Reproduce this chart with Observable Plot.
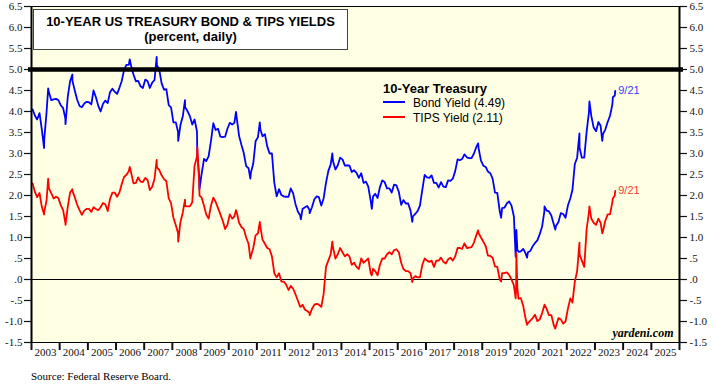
<!DOCTYPE html>
<html>
<head>
<meta charset="utf-8">
<script src="https://cdn.jsdelivr.net/npm/d3@7"></script>
<script src="https://cdn.jsdelivr.net/npm/@observablehq/plot@0.6"></script>
<style>
  html, body { margin: 0; padding: 0; background: #ffffff; }
  #wrap { position: relative; width: 715px; height: 386px; overflow: hidden; }
  #title { position: absolute; left: 33px; top: 9px; width: 315px; height: 41px; box-sizing: border-box;
           border: 1.5px solid #444; background: #ffffff; text-align: center;
           font-family: "Liberation Sans", Arial, sans-serif; font-weight: bold; font-size: 13px;
           line-height: 15px; padding-top: 4px; color: #000; }
  #title div { height: 15px; }
  .leg { position: absolute; font-family: "Liberation Sans", Arial, sans-serif; color: #000; white-space: nowrap; }
  .sw { position: absolute; height: 2px; width: 22px; }
  #source { position: absolute; left: 31px; top: 370px; font-family: "Liberation Serif", "Times New Roman", serif;
            font-size: 11px; line-height: 12px; color: #000; }
</style>
</head>
<body>
<div id="wrap">
  <div id="chart"></div>
  <div id="title"><div>10-YEAR US TREASURY BOND &amp; TIPS YIELDS</div><div>(percent, daily)</div></div>
  <div class="leg" style="left:383px; top:81px; font-size:13px; line-height:15px; font-weight:bold;">10-Year Treasury</div>
  <div class="sw" style="left:383px; top:101px; background:#0000ff;"></div>
  <div class="leg" style="left:413px; top:96px; font-size:12px; line-height:14px;">Bond Yield (4.49)</div>
  <div class="sw" style="left:383px; top:116px; background:#ff0000;"></div>
  <div class="leg" style="left:413px; top:111px; font-size:12px; line-height:14px;">TIPS Yield (2.11)</div>
  <div id="source">Source: Federal Reserve Board.</div>
</div>
<script>
// Monthly readings, Jan 2003 .. Sep 2023 (percent)
const bondMonthly = [
  4.05, 3.90, 3.81, 3.96, 3.57, 3.33, 3.98, 4.45, 4.27, 4.29, 4.30, 4.27,
  4.15, 4.08, 3.83, 4.35, 4.72, 4.73, 4.50, 4.28, 4.13, 4.10, 4.19, 4.23,
  4.22, 4.17, 4.50, 4.34, 4.14, 4.00, 4.18, 4.26, 4.20, 4.46, 4.54, 4.47,
  4.42, 4.57, 4.72, 4.99, 5.11, 5.11, 5.09, 4.88, 4.72, 4.73, 4.60, 4.56,
  4.76, 4.72, 4.56, 4.69, 4.75, 5.10, 5.00, 4.67, 4.52, 4.53, 4.15, 4.10,
  3.74, 3.74, 3.51, 3.68, 3.88, 4.10, 4.01, 3.89, 3.69, 3.81, 3.53, 2.42,
  2.52, 2.87, 2.82, 2.93, 3.29, 3.72, 3.56, 3.59, 3.40, 3.39, 3.40, 3.59,
  3.73, 3.69, 3.73, 3.85, 3.42, 3.20, 3.01, 2.70, 2.65, 2.54, 2.76, 3.29,
  3.39, 3.58, 3.41, 3.46, 3.17, 3.00, 3.00, 2.30, 1.98, 2.15, 2.01, 1.98,
  1.97, 1.97, 2.17, 2.05, 1.80, 1.62, 1.53, 1.68, 1.72, 1.75, 1.65, 1.72,
  1.91, 1.98, 1.96, 1.76, 1.93, 2.30, 2.58, 2.74, 2.81, 2.62, 2.72, 2.90,
  2.86, 2.71, 2.72, 2.71, 2.56, 2.60, 2.54, 2.42, 2.53, 2.30, 2.33, 2.21,
  1.88, 1.98, 2.04, 1.94, 2.20, 2.36, 2.32, 2.17, 2.17, 2.07, 2.26, 2.24,
  2.09, 1.78, 1.89, 1.81, 1.81, 1.64, 1.50, 1.56, 1.63, 1.76, 2.14, 2.49,
  2.43, 2.42, 2.48, 2.30, 2.30, 2.19, 2.32, 2.21, 2.20, 2.36, 2.35, 2.40,
  2.58, 2.86, 2.84, 2.87, 2.98, 2.91, 2.89, 2.89, 3.00, 3.15, 3.12, 2.83,
  2.71, 2.68, 2.57, 2.53, 2.40, 2.07, 2.06, 1.63, 1.70, 1.71, 1.81, 1.86,
  1.76, 1.50, 0.87, 0.66, 0.67, 0.73, 0.62, 0.65, 0.68, 0.79, 0.87, 0.93,
  1.08, 1.26, 1.61, 1.64, 1.62, 1.52, 1.32, 1.28, 1.37, 1.58, 1.56, 1.47,
  1.76, 1.93, 2.13, 2.75, 2.90, 3.14, 2.90, 2.90, 3.52, 3.98, 3.89, 3.62,
  3.53, 3.75, 3.66, 3.46, 3.57, 3.75, 3.90, 4.17, 4.38
];
const tipsMonthly = [
  2.29, 2.08, 1.96, 2.06, 1.73, 1.61, 1.88, 2.17, 2.05, 1.93, 1.97, 1.94,
  1.77, 1.65, 1.35, 1.73, 2.07, 2.11, 1.96, 1.78, 1.65, 1.54, 1.64, 1.68,
  1.68, 1.61, 1.72, 1.68, 1.65, 1.72, 1.82, 1.79, 1.63, 1.92, 2.07, 2.07,
  1.97, 2.08, 2.27, 2.44, 2.49, 2.58, 2.55, 2.29, 2.30, 2.43, 2.33, 2.32,
  2.42, 2.36, 2.13, 2.21, 2.40, 2.67, 2.61, 2.48, 2.39, 2.34, 1.93, 1.82,
  1.47, 1.29, 1.11, 1.37, 1.59, 1.75, 1.74, 1.74, 1.84, 2.71, 2.92, 2.26,
  1.95, 1.75, 1.55, 1.45, 1.75, 1.95, 1.85, 1.70, 1.55, 1.40, 1.20, 1.30,
  1.55, 1.45, 1.50, 1.60, 1.35, 1.25, 1.20, 1.00, 0.85, 0.55, 0.75, 1.05,
  1.10, 1.25, 0.95, 0.85, 0.75, 0.72, 0.55, 0.15, 0.05, 0.15, -0.05, -0.05,
  -0.12, -0.25, -0.15, -0.22, -0.35, -0.50, -0.65, -0.60, -0.72, -0.75, -0.80, -0.70,
  -0.60, -0.58, -0.60, -0.65, -0.35, 0.30, 0.45, 0.60, 0.75, 0.50, 0.60, 0.75,
  0.65, 0.55, 0.60, 0.55, 0.35, 0.40, 0.30, 0.25, 0.50, 0.40, 0.45, 0.50,
  0.15, 0.25, 0.20, 0.10, 0.35, 0.50, 0.50, 0.60, 0.65, 0.60, 0.70, 0.72,
  0.65, 0.40, 0.25, 0.20, 0.20, 0.15, 0.02, 0.08, 0.05, 0.05, 0.35, 0.50,
  0.45, 0.42, 0.45, 0.30, 0.45, 0.45, 0.52, 0.42, 0.38, 0.48, 0.52, 0.45,
  0.55, 0.75, 0.75, 0.73, 0.86, 0.75, 0.76, 0.77, 0.88, 1.05, 1.10, 1.00,
  0.90, 0.79, 0.57, 0.56, 0.52, 0.31, 0.30, 0.00, 0.15, 0.15, 0.17, 0.11,
  0.00, -0.14, -0.20, -0.46, -0.44, -0.63, -0.93, -1.04, -0.98, -0.92, -0.84, -0.99,
  -0.95, -0.80, -0.62, -0.70, -0.85, -0.85, -1.08, -1.10, -0.92, -0.95, -1.05, -1.00,
  -0.70, -0.45, -0.55, -0.05, 0.20, 0.60, 0.45, 0.30, 1.20, 1.60, 1.45, 1.35,
  1.30, 1.45, 1.35, 1.15, 1.40, 1.55, 1.55, 1.85, 2.00
];
// Daily highs/lows
const extremeDates = ["2003-06-13","2003-08-05","2004-03-17","2004-06-14","2006-06-28","2007-06-12",
  "2008-03-17","2008-06-13","2008-11-20","2008-12-18","2010-04-05","2010-10-08","2011-02-08",
  "2012-07-24","2012-11-15","2013-09-05","2015-01-30","2016-07-08","2018-11-08","2019-09-03",
  "2020-03-09","2020-03-18","2020-03-31","2020-08-04","2021-03-18","2021-08-04","2022-06-14",
  "2022-10-21","2023-04-06","2023-08-21","2023-09-21"];
const extremeBond = [3.13, 4.55, 3.70, 4.88, 5.24, 5.30, 3.30, 4.27, 3.00, 2.15, 3.99, 2.40, 3.74,
  1.43, 1.58, 3.00, 1.68, 1.37, 3.24, 1.47, 0.54, 1.18, 0.70, 0.52, 1.74, 1.19, 3.48, 4.24, 3.30, 4.34, 4.49];
const extremeTips = [1.55, 2.40, 1.30, 2.15, 2.68, 2.85, 0.90, 1.90, 3.15, 2.00, 1.65, 0.50, 1.37,
  -0.65, -0.85, 0.90, 0.10, -0.06, 1.17, -0.05, -0.45, 0.62, -0.20, -1.08, -0.60, -1.17, 0.88, 1.74, 1.10, 1.93, 2.11];

const yTicks = [-1.5, -1.0, -0.5, 0, 0.5, 1.0, 1.5, 2.0, 2.5, 3.0, 3.5, 4.0, 4.5, 5.0, 5.5, 6.0, 6.5];
const yearLabels = [2003,2004,2005,2006,2007,2008,2009,2010,2011,2012,2013,2014,2015,2016,2017,2018,2019,2020,2021,2022,2023,2024,2025];
const endLabel = "9/21";

function buildSeries(monthly, extremes) {
  const pts = monthly.map((v, i) => ({date: new Date(Date.UTC(2003 + Math.floor(i / 12), i % 12, 15)), value: v}));
  extremeDates.forEach((d, i) => pts.push({date: new Date(d + "T00:00:00Z"), value: extremes[i]}));
  return pts.sort((a, b) => a.date - b.date);
}
const bond = buildSeries(bondMonthly, extremeBond);
const tips = buildSeries(tipsMonthly, extremeTips);

const xStart = new Date(Date.UTC(yearLabels[0], 0, 1));
const xEnd = new Date(Date.UTC(yearLabels[yearLabels.length - 1] + 1, 0, 1));
const yearStarts = yearLabels.concat([yearLabels[yearLabels.length - 1] + 1]).map(y => new Date(Date.UTC(y, 0, 1)));
const yearMids = yearLabels.map(y => new Date(Date.UTC(y, 6, 2)));
const fmtY = d => d.toFixed(1).replace(/^(-?)0\./, "$1.");

const serif = "'Liberation Serif', 'Times New Roman', serif";
const sans = "'Liberation Sans', Arial, sans-serif";

const chart = Plot.plot({
  width: 715,
  height: 362,
  marginTop: 6,
  marginBottom: 20,
  marginLeft: 31,
  marginRight: 36,
  style: {background: "transparent", fontFamily: serif, fontSize: "11px", color: "#111"},
  x: {type: "utc", domain: [xStart, xEnd]},
  y: {domain: [yTicks[0], yTicks[yTicks.length - 1]]},
  marks: [
    Plot.frame({fill: "#FFFFE3", stroke: null}),
    Plot.ruleY([0], {stroke: "#000", strokeWidth: 1}),
    Plot.line(bond, {x: "date", y: "value", stroke: "#0000ff", strokeWidth: 1.8}),
    Plot.line(tips, {x: "date", y: "value", stroke: "#ff0000", strokeWidth: 1.8}),
    Plot.ruleY([5], {stroke: "#000", strokeWidth: 4.5, insetLeft: -3, insetRight: -4}),
    Plot.frame({stroke: "#000", strokeWidth: 1}),
    Plot.ruleX([xStart, xEnd], {stroke: "#000", strokeWidth: 2}),
    Plot.axisY({anchor: "left", ticks: yTicks, tickSize: 7, tickPadding: 2, tickFormat: fmtY, label: null, strokeWidth: 1.2}),
    Plot.axisY({anchor: "right", ticks: yTicks, tickSize: 7, tickPadding: 3, tickFormat: fmtY, label: null, strokeWidth: 1.2}),
    Plot.axisX({ticks: yearStarts, tickSize: 8, tickFormat: () => "", label: null, strokeWidth: 2}),
    Plot.axisX({ticks: yearMids, tickSize: 0, tickPadding: 6, tickFormat: d => String(d.getUTCFullYear()), label: null}),
    Plot.text([bond[bond.length - 1]], {x: "date", y: "value", text: () => endLabel, dx: 3, textAnchor: "start",
      fill: "#3a3aff", fontFamily: sans, fontSize: 11}),
    Plot.text([tips[tips.length - 1]], {x: "date", y: "value", text: () => endLabel, dx: 3, textAnchor: "start",
      fill: "#ff3a3a", fontFamily: sans, fontSize: 11}),
    Plot.text(["yardeni.com"], {frameAnchor: "bottom-right", dx: -6, dy: -6, text: d => d,
      fontFamily: serif, fontSize: 12, fontWeight: "bold", fontStyle: "italic", fill: "#000"})
  ]
});
document.getElementById("chart").appendChild(chart);
</script>
</body>
</html>
